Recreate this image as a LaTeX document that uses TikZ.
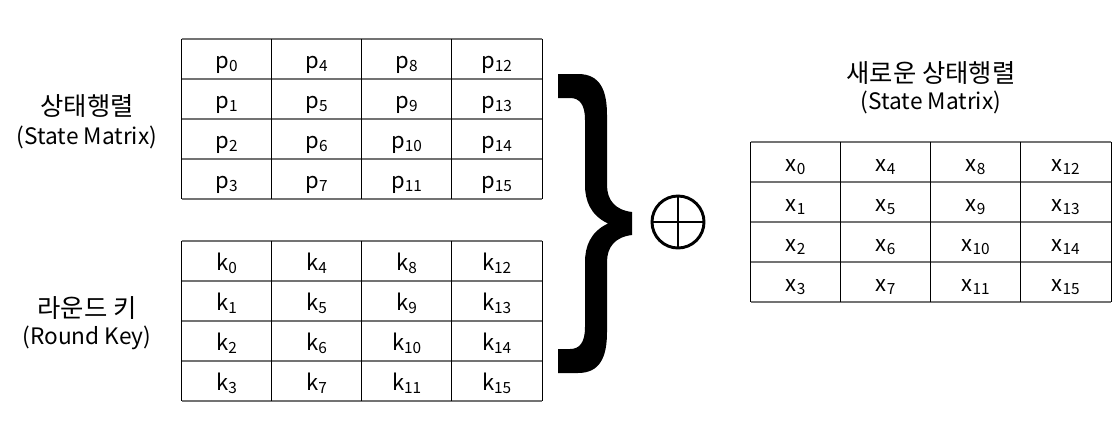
\documentclass[tikz,border=0pt]{standalone}
\usepackage{fontspec}
\setmainfont{Noto Sans CJK KR}
\usetikzlibrary{positioning}

\begin{document}
\begin{tikzpicture}[x=0.75pt, y=-0.75pt,
    cell/.style={minimum width=67.5pt, minimum height=30pt, inner sep=0pt, text height=14pt, text depth=0pt, font=\fontsize{16.5}{19}\selectfont},
    hline/.style={draw=black!55, line width=1.5pt},
    vline/.style={draw=black, line width=0.8pt},
    headko/.style={inner sep=0pt, font=\fontsize{19}{22}\selectfont},
    headen/.style={inner sep=0pt, font=\fontsize{17}{20}\selectfont},
    xorop/.style={circle, draw, line width=2.2pt, minimum size=39pt, inner sep=0pt}
]
\useasboundingbox (0,0) rectangle (1113,437);

% three 4x4 tables
\foreach \t/\x/\y in {p/227/59, k/227/261, x/796/162} {
  \foreach \c in {0,...,3}
    \foreach \r in {0,...,3} {
      \pgfmathtruncatemacro\n{4*\c+\r}
      \node[cell] (\t-\c-\r) at (\x+90*\c, \y+40*\r) {\t\textsubscript{\n}};
    }
  \draw[hline] (\t-0-0.north west) -- (\t-3-0.north east);
  \foreach \r in {0,...,3}
    \draw[hline] (\t-0-\r.south west) -- (\t-3-\r.south east);
  \foreach \c in {0,...,3}
    \draw[vline] (\t-\c-0.north west) -- (\t-\c-3.south west);
  \draw[vline] (\t-3-0.north east) -- (\t-3-3.south east);
}

% labels
\node[headko] (stateko) at (87,106) {상태행렬};
\node[headen] (stateen) at (87,137) {(State Matrix)};
\node[headko] (keyko) at (87,308) {라운드 키};
\node[headen] (keyen) at (87,338) {(Round Key)};
\node[headko] (newko) at (931,73) {새로운 상태행렬};
\node[headen] (newen) at (931,102) {(State Matrix)};

% big brace
\fill (558,74) -- (578,74) .. controls (600,74) and (607,90) .. (607,115)
  -- (607,185) .. controls (607,200) and (615,210) .. (632,212)
  -- (632,235) .. controls (615,237) and (607,247) .. (607,262)
  -- (607,332) .. controls (607,357) and (600,373) .. (578,373)
  -- (558,373) -- (558,349) -- (570,349) .. controls (580,349) and (585,342) .. (585,327)
  -- (585,262) .. controls (585,247) and (590,232) .. (608,223.5)
  .. controls (590,215) and (585,200) .. (585,185)
  -- (585,120) .. controls (585,105) and (580,98) .. (570,98) -- (558,98) -- cycle;

% xor
\node[xorop] (xor) at (678,222) {};
\draw[line width=2.2pt] (xor.north) -- (xor.south);
\draw[line width=2.2pt] (xor.west) -- (xor.east);

\end{tikzpicture}
\end{document}
